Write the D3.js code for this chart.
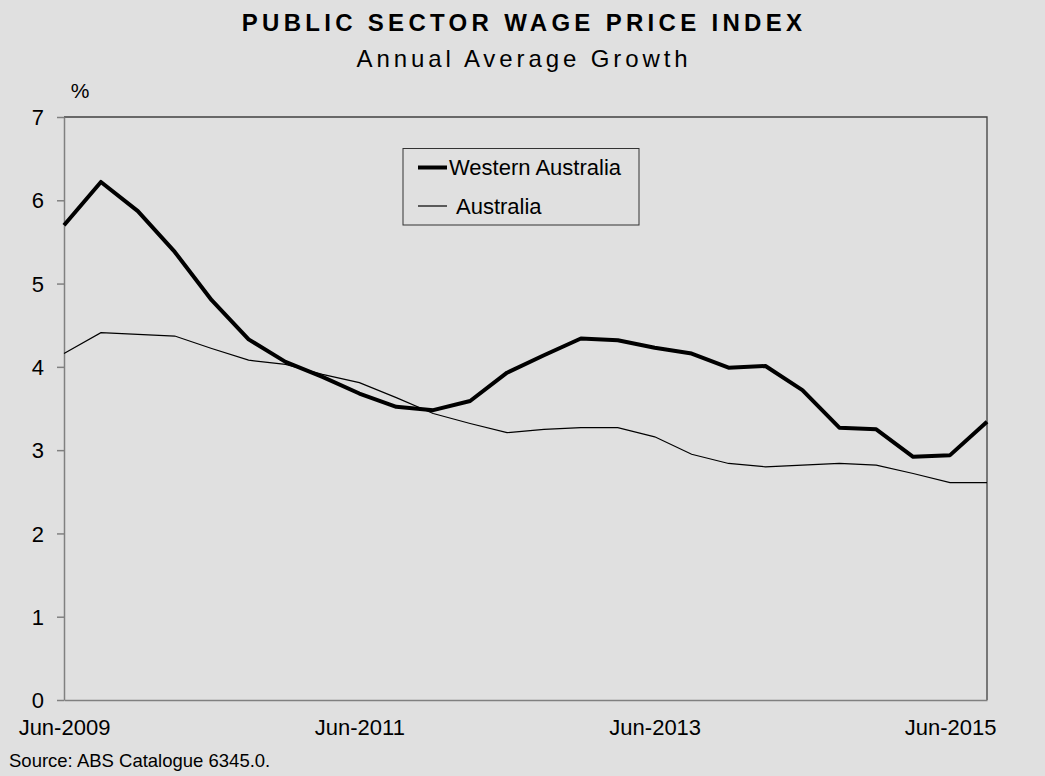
<!DOCTYPE html>
<html>
<head>
<meta charset="utf-8">
<script src="https://cdn.jsdelivr.net/npm/d3@7/dist/d3.min.js"></script>
<style>
  body { margin: 0; background: #e0e0e0; }
  svg { display: block; font-family: "Liberation Sans", Arial, sans-serif; }
</style>
</head>
<body>
<div id="chart"></div>
<script>
// quarterly periods
const quarters = [
  "Jun-2009", "Sep-2009", "Dec-2009", "Mar-2010", "Jun-2010", "Sep-2010", "Dec-2010", "Mar-2011",
  "Jun-2011", "Sep-2011", "Dec-2011", "Mar-2012", "Jun-2012", "Sep-2012", "Dec-2012", "Mar-2013",
  "Jun-2013", "Sep-2013", "Dec-2013", "Mar-2014", "Jun-2014", "Sep-2014", "Dec-2014", "Mar-2015",
  "Jun-2015", "Sep-2015"
];
// annual average growth, %
const westernAustralia = [
  5.70, 6.22, 5.87, 5.38, 4.80, 4.33, 4.06, 3.88,
  3.68, 3.52, 3.48, 3.59, 3.93, 4.14, 4.34, 4.32,
  4.23, 4.16, 3.99, 4.01, 3.72, 3.27, 3.25, 2.92,
  2.94, 3.34
];
const australia = [
  4.16, 4.41, 4.39, 4.37, 4.22, 4.08, 4.03, 3.91,
  3.81, 3.63, 3.44, 3.32, 3.21, 3.25, 3.27, 3.27,
  3.16, 2.95, 2.84, 2.80, 2.82, 2.84, 2.82, 2.72,
  2.61, 2.61
];
const yTicks = [0, 1, 2, 3, 4, 5, 6, 7];
const xLabelIdx = [0, 8, 16, 24];

const width = 1045, height = 776;
const margin = {top: 117, right: 58, bottom: 76, left: 64};

const svg = d3.select("#chart").append("svg")
  .attr("width", width)
  .attr("height", height);

svg.append("rect").attr("width", width).attr("height", height).attr("fill", "#e0e0e0");

const x = d3.scaleLinear()
  .domain([0, quarters.length - 1])
  .range([margin.left, width - margin.right]);
const y = d3.scaleLinear()
  .domain([0, 7])
  .range([height - margin.bottom, margin.top]);

// titles
svg.append("text")
  .attr("x", 524).attr("y", 31)
  .attr("text-anchor", "middle")
  .style("font-size", "24px").style("font-weight", "bold")
  .style("letter-spacing", "4.3px")
  .text("PUBLIC SECTOR WAGE PRICE INDEX");
svg.append("text")
  .attr("x", 524).attr("y", 67)
  .attr("text-anchor", "middle")
  .style("font-size", "24px")
  .style("letter-spacing", "3.9px")
  .text("Annual Average Growth");

// frame (top and right)
svg.append("path")
  .attr("d", `M${x.range()[0]},${y(7)}H${x.range()[1]}V${y(0)}`)
  .attr("fill", "none").attr("stroke", "#404040").attr("stroke-width", 1.3);

// y axis
const yAxis = svg.append("g")
  .attr("transform", `translate(${margin.left},0)`)
  .call(d3.axisLeft(y).tickValues(yTicks).tickFormat(d3.format("d"))
    .tickSize(7).tickPadding(13).tickSizeOuter(0));
yAxis.select(".domain").attr("stroke", "#808080").attr("stroke-width", 1.5);
yAxis.selectAll(".tick line").attr("stroke", "#808080").attr("stroke-width", 1.5);
yAxis.selectAll("text").style("font-size", "22px").attr("fill", "#000").attr("dy", "0.35em");

// x axis
const xAxis = svg.append("g")
  .attr("transform", `translate(0,${y(0)})`)
  .call(d3.axisBottom(x).tickValues(xLabelIdx).tickSize(0).tickPadding(19)
    .tickFormat(i => quarters[i]));
xAxis.select(".domain").attr("stroke", "#808080").attr("stroke-width", 1.5);
xAxis.selectAll("text").style("font-size", "22px").attr("fill", "#000");

// % unit
svg.append("text")
  .attr("x", 80).attr("y", 98)
  .attr("text-anchor", "middle")
  .style("font-size", "21px")
  .text("%");

// lines
const line = d3.line()
  .x((d, i) => x(i))
  .y(d => y(d));

svg.append("path")
  .datum(australia)
  .attr("fill", "none").attr("stroke", "#000").attr("stroke-width", 1.2)
  .attr("d", line);
svg.append("path")
  .datum(westernAustralia)
  .attr("fill", "none").attr("stroke", "#000").attr("stroke-width", 4)
  .attr("stroke-linejoin", "round")
  .attr("d", line);

// legend
const legend = svg.append("g");
legend.append("rect")
  .attr("x", 403).attr("y", 148.5).attr("width", 236).attr("height", 76.5)
  .attr("fill", "#e0e0e0").attr("stroke", "#333").attr("stroke-width", 1);
const legendItems = [
  {name: "Western Australia", w: 4, y: 167.5, tx: 449},
  {name: "Australia", w: 1.2, y: 206, tx: 456}
];
legendItems.forEach(d => {
  legend.append("line")
    .attr("x1", 418).attr("x2", 447).attr("y1", d.y).attr("y2", d.y)
    .attr("stroke", "#000").attr("stroke-width", d.w);
  legend.append("text")
    .attr("x", d.tx).attr("y", d.y + 7.5)
    .style("font-size", "22px")
    .text(d.name);
});

// source
svg.append("text")
  .attr("x", 9).attr("y", 767)
  .style("font-size", "18.5px")
  .text("Source: ABS Catalogue 6345.0.");
</script>
</body>
</html>
